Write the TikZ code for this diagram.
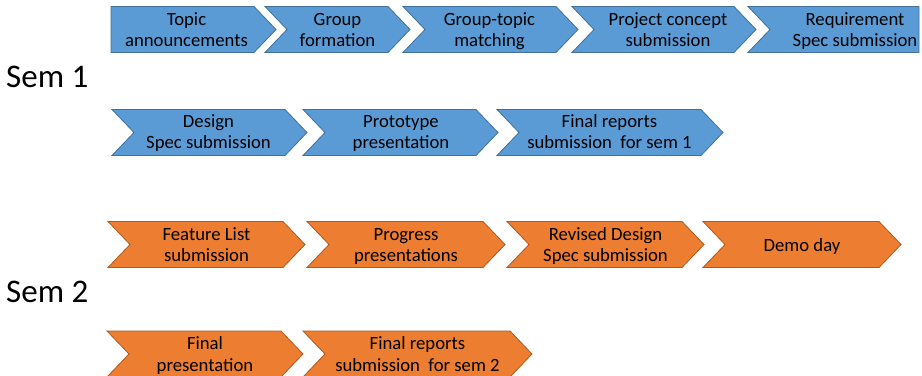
\documentclass[tikz,border=0pt]{standalone}
\usepackage{fontspec}
\setmainfont{Carlito}
\definecolor{bluefill}{HTML}{5B9BD5}
\definecolor{blueline}{HTML}{41719C}
\definecolor{orangefill}{HTML}{ED7D31}
\definecolor{orangeline}{HTML}{AE5A21}
\newcommand\chevshape[5]{%
  \draw[#1] (#2,#4-23) -- (#3-22,#4-23) -- (#3,#4) -- (#3-22,#4+23) -- (#2,#4+23) -- (#2+#5,#4) -- cycle;}
\begin{document}
\begin{tikzpicture}[x=1bp,y=-1bp,
  bluechev/.style={fill=bluefill,draw=blueline,line width=0.8bp,line join=miter},
  orangechev/.style={fill=orangefill,draw=orangeline,line width=0.8bp,line join=miter},
  lbl/.style={font=\fontsize{18.7bp}{22bp}\selectfont,inner sep=0pt,anchor=base,text=black},
  semlbl/.style={font=\fontsize{33bp}{40bp}\selectfont,inner sep=0pt,anchor=base west,text=black}]
\useasboundingbox (0,0) rectangle (922,375);
% Row 1
\chevshape{bluechev}{111}{276}{29.5}{0}
\chevshape{bluechev}{265}{410}{29.5}{22}
\chevshape{bluechev}{403}{578}{29.5}{22}
\chevshape{bluechev}{572}{756}{29.5}{22}
\draw[bluechev] (748,6.5) -- (919,6.5) -- (919,52.5) -- (748,52.5) -- (770,29.5) -- cycle;
% Row 2
\chevshape{bluechev}{112}{307}{132.5}{22}
\chevshape{bluechev}{303}{498}{132.5}{22}
\chevshape{bluechev}{497}{723}{132.5}{22}
% Row 3
\chevshape{orangechev}{108}{305}{244.5}{22}
\chevshape{orangechev}{307}{505}{244.5}{22}
\chevshape{orangechev}{507}{704}{244.5}{22}
\chevshape{orangechev}{703}{901}{244.5}{22}
% Row 4
\chevshape{orangechev}{107}{303}{354}{22}
\chevshape{orangechev}{303}{532}{354}{22}
% Row labels
\node[semlbl] (sem1) at (6,87.7) {Sem 1};
\node[semlbl] (sem2) at (6,302.3) {Sem 2};
% Row 1 texts
\node[lbl] (t1a) at (186.5,25.3) {Topic};
\node[lbl] (t1b) at (186.5,46.6) {announcements};
\node[lbl] (t2a) at (337.5,25.3) {Group};
\node[lbl] (t2b) at (337.5,46.6) {formation};
\node[lbl] (t3a) at (489.5,25.3) {Group-topic};
\node[lbl] (t3b) at (489.5,46.6) {matching};
\node[lbl] (t4a) at (668,25.3) {Project concept};
\node[lbl] (t4b) at (668,46.6) {submission};
\node[lbl] (t5a) at (855,25.3) {Requirement};
\node[lbl] (t5b) at (855,46.6) {Spec submission};
% Row 2 texts
\node[lbl] (d1a) at (208.5,127) {Design};
\node[lbl] (d1b) at (208.5,148.5) {Spec submission};
\node[lbl] (d2a) at (401,127) {Prototype};
\node[lbl] (d2b) at (401,148.5) {presentation};
\node[lbl] (d3a) at (609.5,127) {Final reports};
\node[lbl] (d3b) at (609.5,148.5) {submission~ for sem 1};
% Row 3 texts
\node[lbl] (o1a) at (206.5,240) {Feature List};
\node[lbl] (o1b) at (206.5,261.7) {submission};
\node[lbl] (o2a) at (406,240) {Progress};
\node[lbl] (o2b) at (406,261.7) {presentations};
\node[lbl] (o3a) at (605.5,240) {Revised Design};
\node[lbl] (o3b) at (605.5,261.7) {Spec submission};
\node[lbl] (o4a) at (802,251) {Demo day};
% Row 4 texts
\node[lbl] (f1a) at (205,349.5) {Final};
\node[lbl] (f1b) at (205,371.5) {presentation};
\node[lbl] (f2a) at (417.5,349.5) {Final reports};
\node[lbl] (f2b) at (417.5,371.5) {submission~ for sem 2};
\end{tikzpicture}
\end{document}
